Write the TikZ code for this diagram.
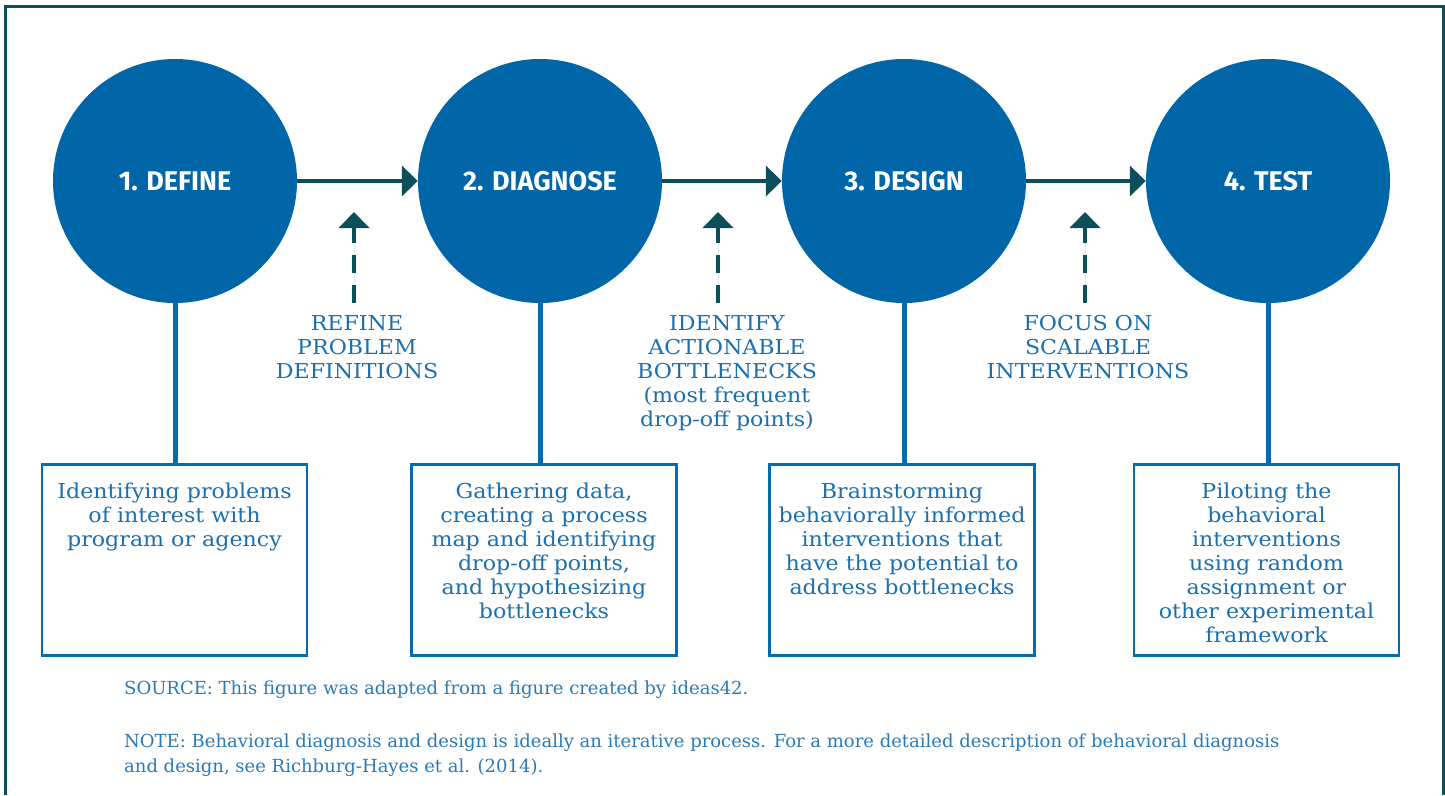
\documentclass[tikz,border=0pt]{standalone}
\usepackage{fontspec}
\setmainfont{DejaVu Serif}[FakeStretch=1.08]
\newfontfamily\stagefont{Fira Sans}
\newfontfamily\notefont{DejaVu Serif}
\usepackage{tikz}
\usetikzlibrary{arrows.meta}
\usetikzlibrary{positioning}
\definecolor{stepblue}{HTML}{0066A8}
\definecolor{boxblue}{HTML}{0A6AAE}
\definecolor{txtblue}{HTML}{1B6FAE}
\definecolor{noteblue}{HTML}{2A7AB8}
\definecolor{dteal}{HTML}{0B4F5A}
\newcommand\boxtext[1]{\parbox[t][191pt][t]{265pt}{\centering\rule{0pt}{34pt}#1}}
\tikzstyle{stage}=[circle,fill=stepblue,minimum size=244pt,inner sep=0pt,text=white,font=\stagefont\bfseries\fontsize{27}{30}\selectfont]
\tikzstyle{desc}=[draw=boxblue,line width=2.6pt,inner sep=0pt,anchor=north,text=txtblue,font=\fontsize{20.5}{24}\selectfont]
\tikzstyle{lbl}=[anchor=north,align=center,inner sep=0pt,text=txtblue,font=\fontsize{20.5}{24}\selectfont]
\tikzstyle{stem}=[line width=5pt,draw=boxblue]
\tikzstyle{fw}=[line width=4pt,draw=dteal,fill=dteal,-{Triangle[length=16pt,width=30pt]}]
\tikzstyle{fb}=[fw,dash pattern=on 18pt off 12pt]
\tikzstyle{frame}=[line width=3pt,draw=dteal]
\tikzstyle{note}=[anchor=base west,align=left,inner sep=0pt,text=noteblue,font=\notefont\fontsize{18}{25}\selectfont]

\begin{document}
\begin{tikzpicture}[x=1pt,y=-1pt]
  \useasboundingbox (0,0) rectangle (1445,795);
  \draw[frame] (5,795) |- (1443,6) -- (1443,795);

  \node[stage] (c1) at (175,181)  {1. DEFINE};
  \node[stage] (c2) at (540,181)  {2. DIAGNOSE};
  \node[stage] (c3) at (904,181)  {3. DESIGN};
  \node[stage] (c4) at (1268,181) {4. TEST};
  \draw[fw] (c1) -- (c2);
  \draw[fw] (c2) -- (c3);
  \draw[fw] (c3) -- (c4);

  \node[desc] (b1) at (174.5,463) {\boxtext{Identifying problems\\ of interest with\\ program or agency}};
  \node[desc] (b2) at (544,463)   {\boxtext{Gathering data,\\ creating a process\\ map and identifying\\ drop-off points,\\ and hypothesizing\\ bottlenecks}};
  \node[desc] (b3) at (902,463)   {\boxtext{Brainstorming\\ behaviorally informed\\ interventions that\\ have the potential to\\ address bottlenecks}};
  \node[desc] (b4) at (1266.5,463) {\boxtext{Piloting the\\ behavioral\\ interventions\\ using random\\ assignment or\\ other experimental\\ framework}};
  \draw[stem] (c1.south) -- (c1.south |- b1.north);
  \draw[stem] (c2.south) -- (c2.south |- b2.north);
  \draw[stem] (c3.south) -- (c3.south |- b3.north);
  \draw[stem] (c4.south) -- (c4.south |- b4.north);

  \node[lbl] (l1) at (357,315)  {REFINE\\ PROBLEM\\ DEFINITIONS};
  \node[lbl] (l2) at (727,315)  {IDENTIFY\\ ACTIONABLE\\ BOTTLENECKS\\ (most frequent\\ drop-off points)};
  \node[lbl] (l3) at (1088,315) {FOCUS ON\\ SCALABLE\\ INTERVENTIONS};
  \coordinate (t1) at (354,212);
  \coordinate (t2) at (718,212);
  \coordinate (t3) at (1085,212);
  \draw[fb] (t1 |- 0,303) -- (t1);
  \draw[fb] (t2 |- 0,303) -- (t2);
  \draw[fb] (t3 |- 0,303) -- (t3);

  \node[note] (src) at (124,694) {SOURCE: This figure was adapted from a figure created by ideas42.};
  \node[note] (nt) at (124,772) {NOTE: Behavioral diagnosis and design is ideally an iterative process. For a more detailed description of behavioral diagnosis\\ and design, see Richburg-Hayes et al. (2014).};
\end{tikzpicture}
\end{document}
